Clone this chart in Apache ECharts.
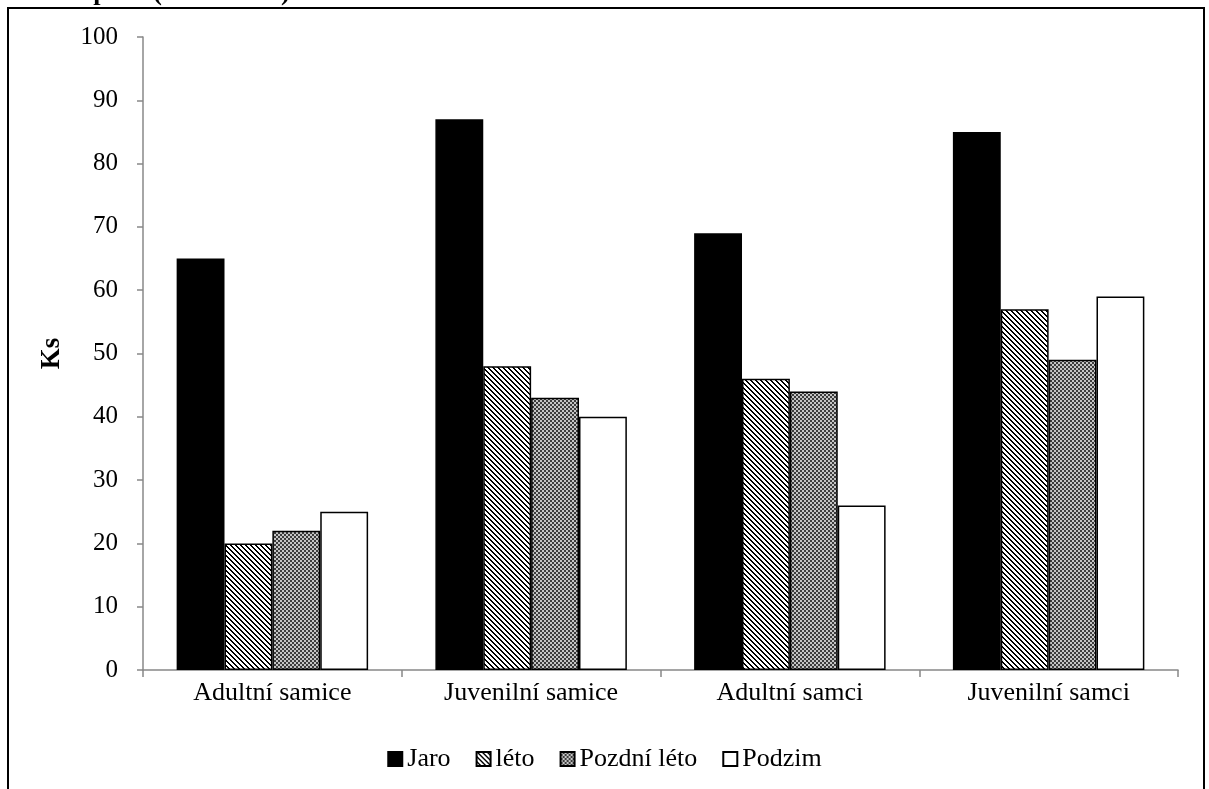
<!DOCTYPE html>
<html>
<head>
<meta charset="utf-8">
<script src="https://cdn.jsdelivr.net/npm/echarts@6/dist/echarts.min.js"></script>
<style>
  html, body { margin: 0; padding: 0; background: #fff; }
  #chart { width: 1209px; height: 789px; }
</style>
</head>
<body>
<div id="chart"></div>
<script>
// Groups and seasonal Ks values
const categories = ['Adultní samice', 'Juvenilní samice', 'Adultní samci', 'Juvenilní samci'];
const seasons = ['Jaro', 'léto', 'Pozdní léto', 'Podzim'];
const jaro = [65, 87, 69, 85];
const leto = [20, 48, 46, 57];
const pozdniLeto = [22, 43, 44, 49];
const podzim = [25, 40, 26, 59];
const yTicks = [0, 10, 20, 30, 40, 50, 60, 70, 80, 90, 100];

const FONT = '"Liberation Serif", "DejaVu Serif", serif';

// Diagonal hatch (\\\) pattern
function stripeTile() {
  const n = 5;
  const c = document.createElement('canvas');
  c.width = n; c.height = n;
  const ctx = c.getContext('2d');
  ctx.fillStyle = '#fff';
  ctx.fillRect(0, 0, n, n);
  ctx.fillStyle = '#000';
  for (let y = 0; y < n; y++) {
    for (let x = 0; x < n; x++) {
      const d = ((x - y) % n + n) % n;
      if (d === 0 || d === 1) ctx.fillRect(x, y, 1, 1);
    }
  }
  return c;
}

// Small checkered pattern
function checkerTile() {
  const c = document.createElement('canvas');
  c.width = 4; c.height = 4;
  const ctx = c.getContext('2d');
  ctx.fillStyle = '#3c3c3c';
  ctx.fillRect(0, 0, 4, 4);
  ctx.fillStyle = '#c4c4c4';
  ctx.fillRect(0, 0, 2, 2);
  ctx.fillRect(2, 2, 2, 2);
  return c;
}

const stripeFill = { image: stripeTile(), repeat: 'repeat' };
const checkerFill = { image: checkerTile(), repeat: 'repeat' };

const fills = ['#000000', stripeFill, checkerFill, '#ffffff'];
const values = [jaro, leto, pozdniLeto, podzim];

const chart = echarts.init(document.getElementById('chart'), null, { renderer: 'canvas' });

chart.setOption({
  animation: false,
  backgroundColor: '#fff',
  textStyle: { fontFamily: FONT },
  graphic: [
    {
      type: 'text',
      left: 0,
      top: -20,
      style: {
        text: 'zonních pastí (2007- 2013)',
        font: 'bold 26px ' + FONT,
        fill: '#000'
      }
    },
    {
      type: 'rect',
      shape: { x: 8, y: 8, width: 1196, height: 800 },
      style: { fill: 'none', stroke: '#000', lineWidth: 2 },
      z: -1
    }
  ],
  grid: { left: 143, right: 31, top: 37, bottom: 119, containLabel: false },
  legend: {
    bottom: 12,
    left: 'center',
    itemWidth: 14,
    itemHeight: 14,
    itemGap: 25,
    icon: 'rect',
    textStyle: { fontFamily: FONT, fontSize: 26, color: '#000' },
    data: seasons
  },
  xAxis: {
    type: 'category',
    data: categories,
    axisLine: { lineStyle: { color: '#888', width: 1.5 } },
    axisTick: { show: true, length: 7, lineStyle: { color: '#888', width: 1.5 } },
    axisLabel: { fontFamily: FONT, fontSize: 26, color: '#000', margin: 10 }
  },
  yAxis: {
    type: 'value',
    min: yTicks[0],
    max: yTicks[yTicks.length - 1],
    interval: 10,
    name: 'Ks',
    nameLocation: 'middle',
    nameGap: 77,
    nameTextStyle: { fontFamily: FONT, fontSize: 27, fontWeight: 'bold', color: '#000' },
    splitLine: { show: false },
    axisLine: { show: true, lineStyle: { color: '#888', width: 1.5 } },
    axisTick: { show: true, length: 6, lineStyle: { color: '#888', width: 1.5 } },
    axisLabel: { fontFamily: FONT, fontSize: 25, color: '#000', margin: 25 }
  },
  series: seasons.map((name, i) => ({
    name,
    type: 'bar',
    data: values[i],
    barGap: '0%',
    barCategoryGap: '26%',
    itemStyle: { color: fills[i], borderColor: '#000', borderWidth: 1.5 }
  }))
});
</script>
</body>
</html>
